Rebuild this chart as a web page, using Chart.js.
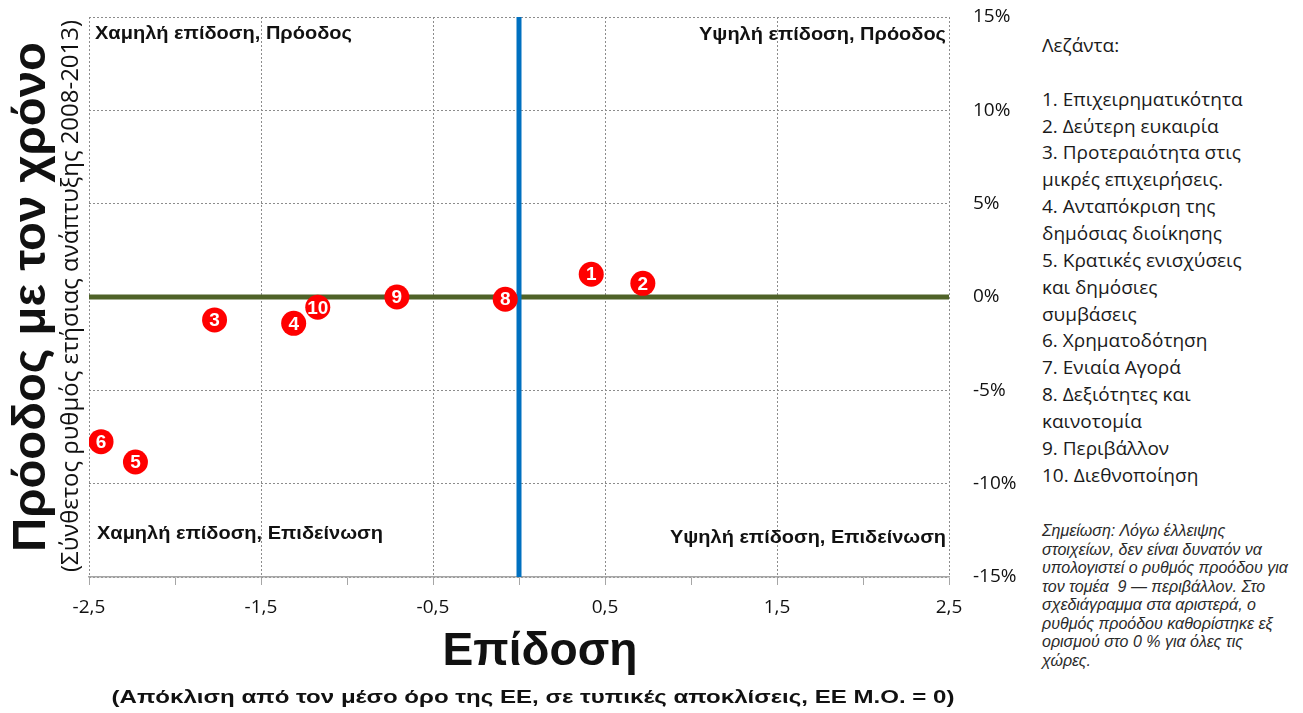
<!DOCTYPE html>
<html lang="el">
<head>
<meta charset="utf-8">
<title>Επίδοση και πρόοδος</title>
<script src="https://cdn.jsdelivr.net/npm/chart.js@4/dist/chart.umd.min.js"></script>
<style>
  body { margin: 0; background: #fff; width: 1303px; height: 713px; overflow: hidden; position: relative; }
  #wrap { position: absolute; left: 0; top: 0; width: 1030px; height: 713px; }
  #legend { position: absolute; left: 1042px; top: 32px; font-family: "Open Sans", sans-serif; font-size: 19px; line-height: 26.86px; color: #1a1a1a; white-space: nowrap; }
  #note { position: absolute; left: 1042px; top: 522px; font-family: "Liberation Sans", Arial, sans-serif; font-style: italic; font-size: 16px; line-height: 18.5px; color: #2a2a2a; white-space: nowrap; }
</style>
</head>
<body>
<div id="wrap"><canvas id="chart"></canvas></div>
<div id="legend">
Λεζάντα:<br><br>
1. Επιχειρηματικότητα<br>
2. Δεύτερη ευκαιρία<br>
3. Προτεραιότητα στις<br>
μικρές επιχειρήσεις.<br>
4. Ανταπόκριση της<br>
δημόσιας διοίκησης<br>
5. Κρατικές ενισχύσεις<br>
και δημόσιες<br>
συμβάσεις<br>
6. Χρηματοδότηση<br>
7. Ενιαία Αγορά<br>
8. Δεξιότητες και<br>
καινοτομία<br>
9. Περιβάλλον<br>
10. Διεθνοποίηση
</div>
<div id="note">
Σημείωση: Λόγω έλλειψης<br>
στοιχείων, δεν είναι δυνατόν να<br>
υπολογιστεί ο ρυθμός προόδου για<br>
τον τομέα&nbsp; 9 — περιβάλλον. Στο<br>
σχεδιάγραμμα στα αριστερά, ο<br>
ρυθμός προόδου καθορίστηκε εξ<br>
ορισμού στο 0 % για όλες τις<br>
χώρες.
</div>
<script>
// sectors shown on the chart (7 has no point)
var sectorIds = ['1', '2', '3', '4', '5', '6', '8', '9', '10'];
// performance: deviation from EU average, in standard deviations
var performance = [0.42, 0.72, -1.77, -1.31, -2.23, -2.43, -0.08, -0.71, -1.17];
// progress: compound annual growth 2008-2013, %
var progress = [1.22, 0.73, -1.23, -1.41, -8.84, -7.75, -0.12, 0.0, -0.55];

var xTickValues = [-2.5, -2, -1.5, -1, -0.5, 0, 0.5, 1, 1.5, 2, 2.5];
var yTickValues = [-15, -10, -5, 0, 5, 10, 15];

var xTitle = 'Επίδοση';
var xSubtitle = '(Απόκλιση από τον μέσο όρο της ΕΕ, σε τυπικές αποκλίσεις, ΕΕ Μ.Ο. = 0)';
var yTitle = 'Πρόοδος με τον χρόνο';
var ySubtitle = '(Σύνθετος ρυθμός ετήσιας ανάπτυξης 2008-2013)';
var quadrantLabels = ['Χαμηλή επίδοση, Πρόοδος', 'Υψηλή επίδοση, Πρόοδος',
                      'Χαμηλή επίδοση, Επιδείνωση', 'Υψηλή επίδοση, Επιδείνωση'];

var points = performance.map(function (x, i) { return { x: x, y: progress[i] }; });
var xMin = xTickValues[0], xMax = xTickValues[xTickValues.length - 1];
var yMin = yTickValues[0], yMax = yTickValues[yTickValues.length - 1];

var GRID = '#8c8c8c';
var SANS = '"Liberation Sans", Arial, sans-serif';

// draw text squeezed/stretched to a given width
function fitText(ctx, text, x, y, width, align) {
    var w = ctx.measureText(text).width;
    var s = width / w;
    ctx.save();
    ctx.translate(x, y);
    ctx.scale(s, 1);
    ctx.textAlign = align;
    ctx.fillText(text, 0, 0);
    ctx.restore();
}

const numberLabels = {
    id: 'numberLabels',
    afterDatasetsDraw(chart) {
        var ctx = chart.ctx;
        var meta = chart.getDatasetMeta(0);
        ctx.save();
        ctx.fillStyle = '#fff';
        ctx.font = 'bold 19px ' + SANS;
        ctx.textAlign = 'center';
        ctx.textBaseline = 'middle';
        meta.data.forEach(function (el, i) {
            ctx.fillText(sectorIds[i], el.x, el.y + 1);
        });
        ctx.restore();
    }
};

const titles = {
    id: 'titles',
    afterDraw(chart) {
        var ctx = chart.ctx;
        var a = chart.chartArea;
        ctx.save();
        ctx.fillStyle = '#111';
        ctx.textBaseline = 'alphabetic';

        ctx.font = 'bold 19px ' + SANS;
        fitText(ctx, quadrantLabels[0], a.left + 6, a.top + 22, 257, 'left');
        fitText(ctx, quadrantLabels[1], a.right - 3, a.top + 23, 247, 'right');
        fitText(ctx, quadrantLabels[2], a.left + 8, a.bottom - 38, 286, 'left');
        fitText(ctx, quadrantLabels[3], a.right - 3, a.bottom - 34, 276, 'right');

        ctx.font = 'bold 46px ' + SANS;
        fitText(ctx, xTitle, 540, 665, 195, 'center');
        ctx.font = 'bold 19px ' + SANS;
        fitText(ctx, xSubtitle, 533, 703, 843, 'center');

        ctx.save();
        ctx.translate(45, 297);
        ctx.rotate(-Math.PI / 2);
        ctx.font = 'bold 46px ' + SANS;
        fitText(ctx, yTitle, 0, 0, 510, 'center');
        ctx.restore();

        ctx.save();
        ctx.translate(78, 296);
        ctx.rotate(-Math.PI / 2);
        ctx.font = '23px "Open Sans", sans-serif';
        fitText(ctx, ySubtitle, 0, 0, 552, 'center');
        ctx.restore();

        ctx.restore();
    }
};

const config = {
    type: 'scatter',
    data: {
        datasets: [
            {
                label: 'Τομείς',
                data: points,
                backgroundColor: '#ff0000',
                borderWidth: 0,
                pointRadius: 12.5,
                pointHoverRadius: 12.5,
                order: 0
            },
            {
                type: 'line',
                label: 'x0',
                data: [{ x: 0, y: yMin }, { x: 0, y: yMax }],
                borderColor: '#0070c0',
                borderWidth: 5,
                pointRadius: 0,
                order: 1
            },
            {
                type: 'line',
                label: 'y0',
                data: [{ x: xMin, y: 0 }, { x: xMax, y: 0 }],
                borderColor: '#4f6228',
                borderWidth: 5,
                pointRadius: 0,
                order: 2
            }
        ]
    },
    options: {
        responsive: true,
        maintainAspectRatio: false,
        animation: false,
        layout: { padding: { left: 89, right: 11, top: 17, bottom: 0 } },
        plugins: {
            legend: { display: false },
            tooltip: { enabled: false }
        },
        scales: {
            x: {
                type: 'linear',
                position: 'bottom',
                min: xMin,
                max: xMax,
                afterBuildTicks: function (axis) {
                    axis.ticks = xTickValues.map(function (v) { return { value: v }; });
                },
                afterFit: function (axis) { axis.height = 136; },
                ticks: {
                    autoSkip: false,
                    maxRotation: 0,
                    padding: 11,
                    color: '#111',
                    font: { family: '"Open Sans", sans-serif', size: 19 },
                    callback: function (v) {
                        return Number.isInteger(v) ? '' : v.toFixed(1).replace('.', ',');
                    }
                },
                grid: {
                    color: function (c) {
                        return c.tick && Number.isInteger(c.tick.value) ? 'rgba(0,0,0,0)' : GRID;
                    },
                    tickColor: '#a6a6a6',
                    tickLength: 8,
                    lineWidth: 1
                },
                border: { display: true, color: '#a6a6a6', width: 1.5, dash: [2, 2] }
            },
            y: {
                type: 'linear',
                position: 'right',
                min: yMin,
                max: yMax,
                afterBuildTicks: function (axis) {
                    axis.ticks = yTickValues.map(function (v) { return { value: v }; });
                },
                afterFit: function (axis) { axis.width = 70; },
                ticks: {
                    padding: 0,
                    color: '#111',
                    font: { family: '"Open Sans", sans-serif', size: 19 },
                    callback: function (v) { return v + '%'; }
                },
                grid: { color: GRID, drawTicks: true, tickLength: 24, tickColor: 'rgba(0,0,0,0)', lineWidth: 1 },
                border: { display: false, dash: [2, 2] }
            }
        }
    },
    plugins: [numberLabels, titles]
};

const chart = new Chart(document.getElementById('chart'), config);
</script>
</body>
</html>
